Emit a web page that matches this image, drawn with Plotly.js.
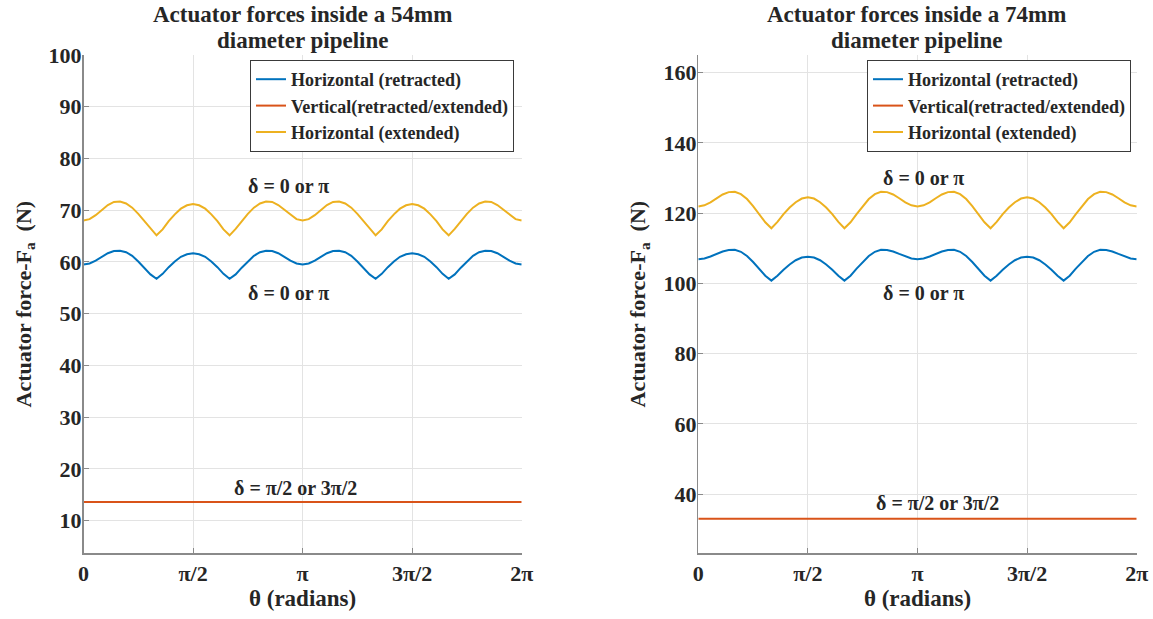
<!DOCTYPE html>
<html>
<head>
<meta charset="utf-8">
<script src="https://cdn.plot.ly/plotly-3.0.1.min.js"></script>
<style>html,body{margin:0;padding:0;background:#fff;} #chart{width:1153px;height:619px;}</style>
</head>
<body>
<div id="chart"></div>
<script>
// θ in degrees (0 .. 360, every 5°)
const thetaDeg = [0,5,10,15,20,25,30,35,40,45,50,55,60,65,70,75,80,85,90,95,100,105,110,115,120,125,130,135,140,145,150,155,160,165,170,175,180,
  185,190,195,200,205,210,215,220,225,230,235,240,245,250,255,260,265,270,275,280,285,290,295,300,305,310,315,320,325,330,335,340,345,350,355,360];

const xTickVals = [0, 90, 180, 270, 360];
const xTickText = ['0', 'π/2', 'π', '3π/2', '2π'];

const leftTitle = ['Actuator forces inside a 54mm', 'diameter pipeline'];
const rightTitle = ['Actuator forces inside a 74mm', 'diameter pipeline'];
const seriesNames = ['Horizontal (retracted)', 'Vertical(retracted/extended)', 'Horizontal (extended)'];

// 54 mm pipeline
const left_hRetracted = [59.5,59.71,60.26,61.0,61.69,62.12,62.17,61.88,61.2,60.1,58.9,57.6,56.75,57.7,59.0,60.1,61.0,61.5,61.7,61.5,61.0,60.1,59.0,57.7,56.75,57.6,58.9,60.1,61.2,61.88,62.17,62.12,61.69,61.0,60.26,59.71,59.5,
  59.71,60.26,61.0,61.69,62.12,62.17,61.88,61.2,60.1,58.9,57.6,56.75,57.7,59.0,60.1,61.0,61.5,61.7,61.5,61.0,60.1,59.0,57.7,56.75,57.6,58.9,60.1,61.2,61.88,62.17,62.12,61.69,61.0,60.26,59.71,59.5];
const left_hExtended = [68.0,68.28,69.05,70.06,71.0,71.6,71.67,71.3,70.5,69.3,67.9,66.4,65.15,66.3,67.9,69.2,70.3,70.95,71.2,70.95,70.3,69.2,67.9,66.3,65.15,66.4,67.9,69.3,70.5,71.3,71.67,71.6,71.0,70.06,69.05,68.28,68.0,
  68.28,69.05,70.06,71.0,71.6,71.67,71.3,70.5,69.3,67.9,66.4,65.15,66.3,67.9,69.2,70.3,70.95,71.2,70.95,70.3,69.2,67.9,66.3,65.15,66.4,67.9,69.3,70.5,71.3,71.67,71.6,71.0,70.06,69.05,68.28,68.0];
const left_vertical = [13.6,13.6,13.6,13.6,13.6,13.6,13.6,13.6,13.6,13.6,13.6,13.6,13.6,13.6,13.6,13.6,13.6,13.6,13.6,13.6,13.6,13.6,13.6,13.6,13.6,13.6,13.6,13.6,13.6,13.6,13.6,13.6,13.6,13.6,13.6,13.6,13.6,
  13.6,13.6,13.6,13.6,13.6,13.6,13.6,13.6,13.6,13.6,13.6,13.6,13.6,13.6,13.6,13.6,13.6,13.6,13.6,13.6,13.6,13.6,13.6,13.6,13.6,13.6,13.6,13.6,13.6,13.6,13.6,13.6,13.6,13.6,13.6,13.6];

// 74 mm pipeline
const right_hRetracted = [106.9,107.11,107.66,108.4,109.09,109.52,109.56,109.0,107.8,106.1,104.2,102.2,100.8,102.2,103.9,105.4,106.6,107.35,107.6,107.35,106.6,105.4,103.9,102.2,100.8,102.2,104.2,106.1,107.8,109.0,109.56,109.52,109.09,108.4,107.66,107.11,106.9,
  107.11,107.66,108.4,109.09,109.52,109.56,109.0,107.8,106.1,104.2,102.2,100.8,102.2,103.9,105.4,106.6,107.35,107.6,107.35,106.6,105.4,103.9,102.2,100.8,102.2,104.2,106.1,107.8,109.0,109.56,109.52,109.09,108.4,107.66,107.11,106.9];
const right_hExtended = [121.9,122.22,123.09,124.24,125.31,125.98,126.05,125.4,124.0,122.0,119.7,117.4,115.7,117.5,119.7,121.6,123.1,124.15,124.5,124.15,123.1,121.6,119.7,117.5,115.7,117.4,119.7,122.0,124.0,125.4,126.05,125.98,125.31,124.24,123.09,122.22,121.9,
  122.22,123.09,124.24,125.31,125.98,126.05,125.4,124.0,122.0,119.7,117.4,115.7,117.5,119.7,121.6,123.1,124.15,124.5,124.15,123.1,121.6,119.7,117.5,115.7,117.4,119.7,122.0,124.0,125.4,126.05,125.98,125.31,124.24,123.09,122.22,121.9];
const right_vertical = [33.0,33.0,33.0,33.0,33.0,33.0,33.0,33.0,33.0,33.0,33.0,33.0,33.0,33.0,33.0,33.0,33.0,33.0,33.0,33.0,33.0,33.0,33.0,33.0,33.0,33.0,33.0,33.0,33.0,33.0,33.0,33.0,33.0,33.0,33.0,33.0,33.0,
  33.0,33.0,33.0,33.0,33.0,33.0,33.0,33.0,33.0,33.0,33.0,33.0,33.0,33.0,33.0,33.0,33.0,33.0,33.0,33.0,33.0,33.0,33.0,33.0,33.0,33.0,33.0,33.0,33.0,33.0,33.0,33.0,33.0,33.0,33.0,33.0];

const colors = ['#0072BD', '#D95319', '#EDB120'];
const FONT = '"Liberation Serif", "Times New Roman", Times, serif';
const txt = '#262626';

function tr(y, i, xa, ya, lg) {
  return {x: thetaDeg, y: y, type: 'scatter', mode: 'lines', name: seriesNames[i],
    line: {color: colors[i], width: 2}, xaxis: xa, yaxis: ya, legend: lg, hoverinfo: 'skip'};
}

const data = [
  tr(left_hRetracted, 0, 'x', 'y', 'legend'),
  tr(left_vertical, 1, 'x', 'y', 'legend'),
  tr(left_hExtended, 2, 'x', 'y', 'legend'),
  tr(right_hRetracted, 0, 'x2', 'y2', 'legend2'),
  tr(right_vertical, 1, 'x2', 'y2', 'legend2'),
  tr(right_hExtended, 2, 'x2', 'y2', 'legend2')
];

const W = 1153, H = 619;
function xAxis(d0, d1, anchor) {
  return {domain: [d0 / W, d1 / W], anchor: anchor, range: [0, 360], tickmode: 'array',
    tickvals: xTickVals, ticktext: xTickText, showgrid: true, gridcolor: '#e3e3e3', gridwidth: 1,
    zeroline: false, showline: true, linecolor: '#8a8a8a', linewidth: 1.5, mirror: false,
    ticks: 'inside', ticklen: 5, tickcolor: '#8a8a8a', ticklabelstandoff: 0,
    tickfont: {family: FONT, size: 22, color: txt, weight: 'bold'},
    title: {text: 'θ (radians)', font: {family: FONT, size: 23, color: txt, weight: 'bold'}, standoff: 2}};
}
function yAxis(range, dtick, anchor) {
  return {domain: [(H - 553.3) / H, (H - 55) / H], anchor: anchor, range: range, dtick: dtick, tick0: 0,
    showgrid: true, gridcolor: '#e3e3e3', gridwidth: 1, zeroline: false,
    showline: true, linecolor: '#8a8a8a', linewidth: 1.5, mirror: false,
    ticks: 'inside', ticklen: 5, tickcolor: '#8a8a8a', ticklabelstandoff: -4,
    tickfont: {family: FONT, size: 22, color: txt, weight: 'bold'},
    title: {text: 'Actuator force-F<sub>a</sub>  (N)', font: {family: FONT, size: 22, color: txt, weight: 'bold'}, standoff: 11}};
}

const annFont = {family: FONT, size: 20, color: txt, weight: 'bold'};
function ann(text, x, y, size) {
  return {text: text, xref: 'paper', yref: 'paper', x: x / W, y: 1 - y / H, xanchor: 'center', yanchor: 'middle',
    showarrow: false, font: Object.assign({}, annFont, size ? {size: size} : {})};
}

const legendBase = {bgcolor: '#ffffff', bordercolor: '#3a3a3a', borderwidth: 1,
  font: {family: FONT, size: 18, color: txt, weight: 'bold'}, xanchor: 'right', yanchor: 'top',
  tracegroupgap: 0, itemwidth: 30};

const layout = {
  width: W, height: H, margin: {l: 0, r: 0, t: 0, b: 0}, paper_bgcolor: '#fff', plot_bgcolor: '#fff',
  showlegend: true,
  xaxis: xAxis(83.5, 521.7, 'y'),
  yaxis: yAxis([3.7, 100], 10, 'x'),
  xaxis2: xAxis(698.3, 1136.7, 'y2'),
  yaxis2: yAxis([23.2, 165.0], 20, 'x2'),
  legend: Object.assign({}, legendBase, {x: 514 / W, y: 1 - 60 / H}),
  legend2: Object.assign({}, legendBase, {x: 1131 / W, y: 1 - 60 / H}),
  annotations: [
    ann(leftTitle[0], 302, 14, 23),
    ann(leftTitle[1], 302, 40, 23),
    ann(rightTitle[0], 916, 14, 23),
    ann(rightTitle[1], 916, 40, 23),
    ann('δ = 0 or π', 288, 186),
    ann('δ = 0 or π', 288, 293),
    ann('δ = π/2 or 3π/2', 295, 488),
    ann('δ = 0 or π', 923, 178),
    ann('δ = 0 or π', 923, 293),
    ann('δ = π/2 or 3π/2', 937, 503)
  ]
};

Plotly.newPlot('chart', data, layout, {staticPlot: true, displayModeBar: false});
</script>
</body>
</html>
